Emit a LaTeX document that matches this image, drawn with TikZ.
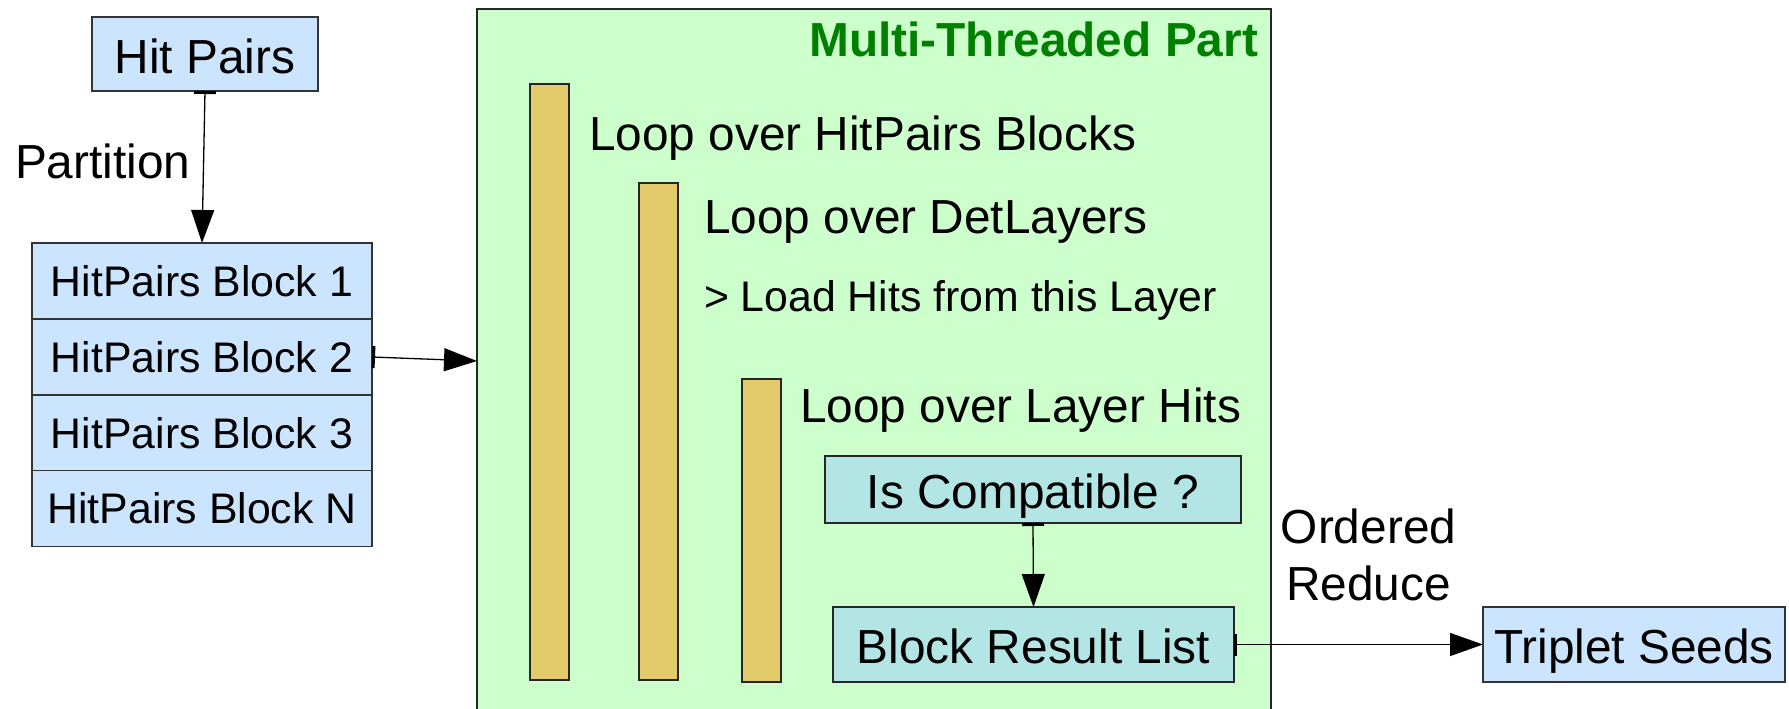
\documentclass[tikz,border=0pt]{standalone}
\usepackage{fontspec}
\setmainfont{Liberation Sans}
\usetikzlibrary{arrows.meta}
\definecolor{boxblue}{HTML}{CCE5FF}
\definecolor{mtgreen}{HTML}{CCFFCC}
\definecolor{loopbar}{HTML}{E3CA6B}
\definecolor{tealbox}{HTML}{B2E5E4}
\definecolor{titlegreen}{HTML}{008000}
\begin{document}
\begin{tikzpicture}[x=1pt,y=-1pt,
  big/.style={font=\fontsize{47.8}{57}\selectfont},
  small/.style={font=\fontsize{42.8}{50}\selectfont},
  plain/.style={inner sep=0pt, outer sep=0pt},
  bluebox/.style={plain, draw=black!80, line width=1.3pt, fill=boxblue, big,
    text height=38pt, text depth=0pt},
  rowbox/.style={plain, draw=black!80, line width=1.3pt, fill=boxblue, small,
    minimum width=340pt, minimum height=76pt, text height=30pt, text depth=0pt},
  tealbx/.style={plain, draw=black!85, line width=1.3pt, fill=tealbox, big,
    text height=38pt, text depth=0pt},
  loopbarbox/.style={plain, draw=black!85, line width=1.4pt, fill=loopbar,
    minimum width=39pt},
  conn/.style={line width=1.3pt,
    {Bar[width=22pt,line width=3pt]}-{Triangle[length=33pt,width=23pt]}},
]
\clip (0,0) rectangle (1789,709);
\fill[white] (0,0) rectangle (1789,709);

% multi-threaded region
\node[plain, draw=black!85, line width=1.3pt, fill=mtgreen,
  minimum width=794pt, minimum height=704pt] (mt) at (874,361) {};
\node[plain, anchor=base east, font=\fontsize{47.8}{57}\selectfont\bfseries,
  text=titlegreen] (title) at (1258,57) {Multi-Threaded Part};

% nested loop bars
\node[loopbarbox, minimum height=596pt] (bar1) at (549.5,382) {};
\node[loopbarbox, minimum height=497pt] (bar2) at (658.5,431.5) {};
\node[loopbarbox, minimum height=303pt] (bar3) at (761.5,530.5) {};

\node[plain, big, anchor=base west] (loop1) at (589,150) {Loop over HitPairs Blocks};
\node[plain, big, anchor=base west] (loop2) at (704,233) {Loop over DetLayers};
\node[plain, small, anchor=base west] (load) at (704,311) {> Load Hits from this Layer};
\node[plain, big, anchor=base west] (loop3) at (800,422) {Loop over Layer Hits};

\node[tealbx, minimum width=416pt, minimum height=67pt] (ic) at (1033,489.5) {Is Compatible ?};
\node[tealbx, minimum width=401pt, minimum height=75pt] (br) at (1033.5,644.5) {Block Result List};

% input side
\node[bluebox, minimum width=226pt, minimum height=74pt, text height=40pt] (hp) at (205,54) {Hit Pairs};
\node[plain, big, anchor=base west] (part) at (15,178) {Partition};

\node[rowbox] (b1) at (202,281) {HitPairs Block 1};
\node[rowbox] (b2) at (202,357) {HitPairs Block 2};
\node[rowbox] (b3) at (202,433) {HitPairs Block 3};
\node[rowbox] (bn) at (202,508.5) {HitPairs Block N};

% output side
\node[bluebox, minimum width=302pt, minimum height=75pt] (ts) at (1634,644.5) {Triplet Seeds};
\node[plain, big, align=center, anchor=base] (ored) at (1368.5,600) {Ordered\\Reduce};

% connectors
\draw[conn] (hp.south) -- (b1.north);
\draw[conn] (b2.east) -- (mt.west);
\draw[conn] (ic.south) -- (br.north);
\draw[conn] (br.east) -- (ts.west);
\end{tikzpicture}
\end{document}
